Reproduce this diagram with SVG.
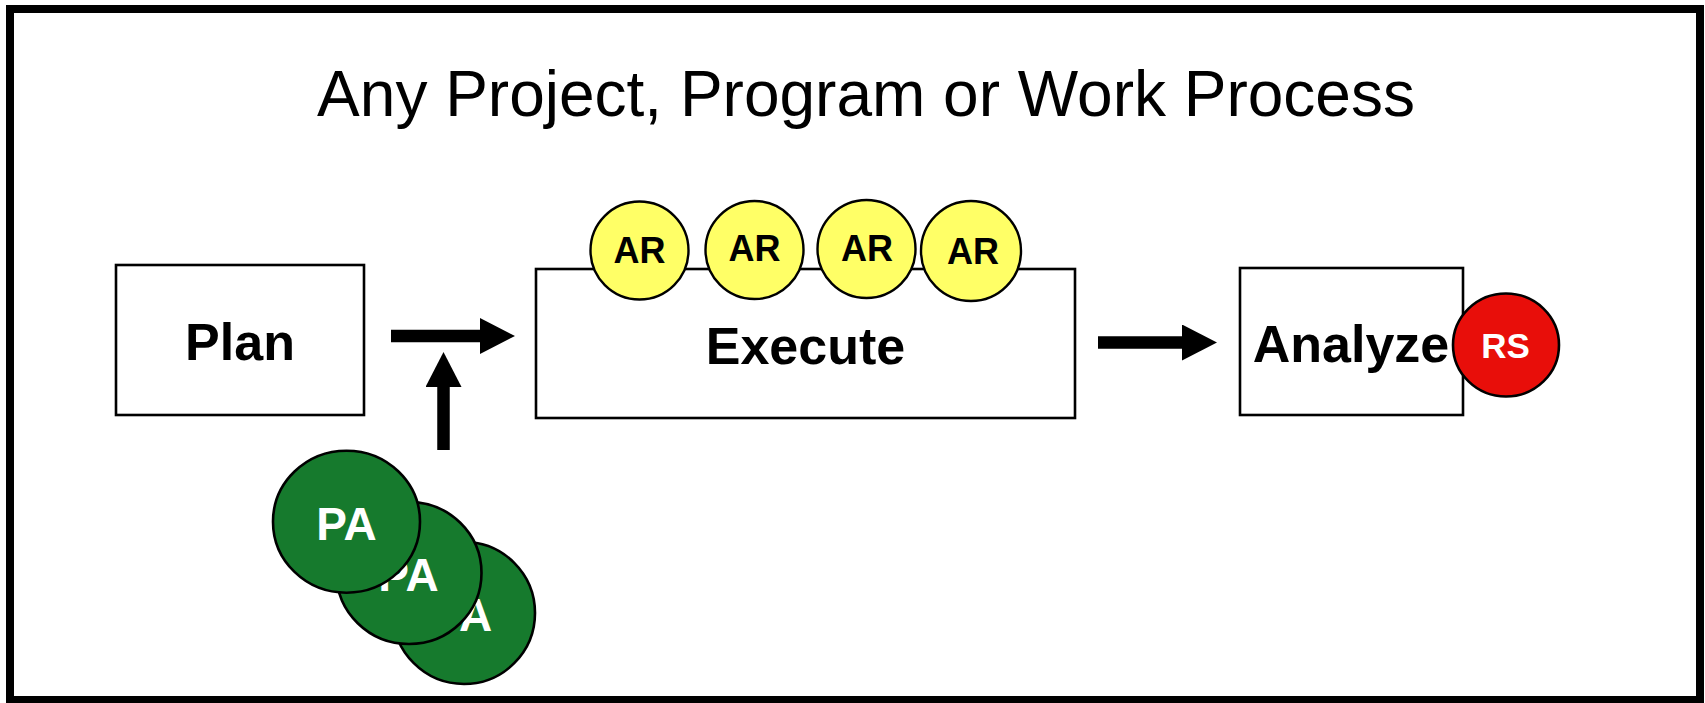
<svg xmlns="http://www.w3.org/2000/svg" width="1705" height="703" viewBox="0 0 1705 703">
<defs>
<style>
.box{fill:#fff;stroke:#000;stroke-width:2.6}
.lbl{font-family:"Liberation Sans",Arial,sans-serif;font-weight:bold;text-anchor:middle}
.ar{fill:#FFFF66;stroke:#000;stroke-width:2.4}
.pa{fill:#167A2D;stroke:#000;stroke-width:2.6}
.rs{fill:#E80E0A;stroke:#000;stroke-width:2.6}
.conn{stroke:#000;stroke-width:12.5;fill:none;marker-end:url(#head)}
</style>
<marker id="head" markerUnits="userSpaceOnUse" viewBox="0 0 35 36" markerWidth="35" markerHeight="36" refX="0" refY="18" orient="auto">
<path d="M0,0 L35,18 L0,36 z" fill="#000"/>
</marker>
</defs>
<rect x="0" y="0" width="1705" height="703" fill="#fff"/>
<rect id="frame" x="10" y="9" width="1690" height="691" fill="none" stroke="#000" stroke-width="8"/>
<text id="title" x="866" y="116" font-family="'Liberation Sans',Arial,sans-serif" font-size="64" text-anchor="middle" fill="#000">Any Project, Program or Work Process</text>

<g id="connectors">
<line class="conn" x1="391" y1="336" x2="480" y2="336"/>
<line class="conn" x1="443.5" y1="450" x2="443.5" y2="387"/>
<line class="conn" x1="1098" y1="342.5" x2="1182" y2="342.5"/>
</g>

<g id="plan">
<rect class="box" x="116" y="265" width="248" height="150"/>
<text class="lbl" x="240" y="360" font-size="52">Plan</text>
</g>

<g id="execute">
<rect class="box" x="536" y="269" width="539" height="149"/>
<text class="lbl" x="805.5" y="364" font-size="52">Execute</text>
</g>

<g id="ar1">
<circle class="ar" cx="639.5" cy="250.5" r="49"/>
<text class="lbl" x="639.5" y="263" font-size="36">AR</text>
</g>
<g id="ar2">
<circle class="ar" cx="754.5" cy="250" r="49"/>
<text class="lbl" x="754.5" y="261" font-size="36">AR</text>
</g>
<g id="ar3">
<circle class="ar" cx="866.5" cy="249" r="49"/>
<text class="lbl" x="867" y="261" font-size="36">AR</text>
</g>
<g id="ar4">
<circle class="ar" cx="971" cy="251" r="50"/>
<text class="lbl" x="973" y="264" font-size="36">AR</text>
</g>

<g id="analyze">
<rect class="box" x="1240" y="268" width="223" height="147"/>
<text class="lbl" x="1351" y="361.5" font-size="52">Analyze</text>
</g>

<g id="rs">
<ellipse class="rs" cx="1506" cy="345" rx="53" ry="51.5"/>
<text class="lbl" x="1505.5" y="358" font-size="35" fill="#fff">RS</text>
</g>

<g id="pa3">
<circle class="pa" cx="464" cy="613" r="71"/>
<text class="lbl" x="462" y="631" font-size="46" fill="#fff">PA</text>
</g>
<g id="pa2">
<ellipse class="pa" cx="409" cy="573" rx="72.5" ry="71"/>
<text class="lbl" x="408.5" y="591" font-size="46" fill="#fff">PA</text>
</g>
<g id="pa1">
<ellipse class="pa" cx="346.5" cy="521.7" rx="73.5" ry="71"/>
<text class="lbl" x="346.5" y="540" font-size="46" fill="#fff">PA</text>
</g>
</svg>
